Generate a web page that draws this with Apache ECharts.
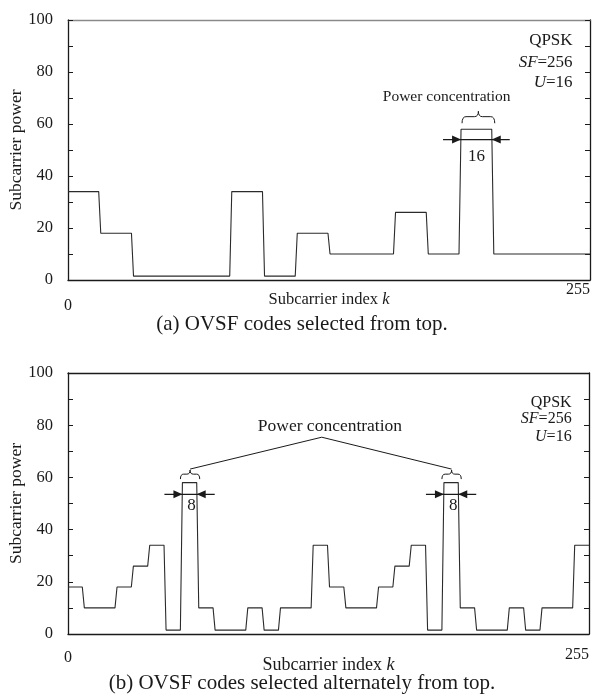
<!DOCTYPE html>
<html>
<head>
<meta charset="utf-8">
<script src="https://cdn.jsdelivr.net/npm/echarts@6/dist/echarts.min.js"></script>
<style>
  html, body { margin: 0; padding: 0; background: #fff; }
  #chart { width: 602px; height: 698px; }
</style>
</head>
<body>
<div id="chart"></div>
<script>
// Subcarrier power per block of adjacent subcarriers.
// (a) codes taken from the top of the OVSF tree: 16 blocks of 16 subcarriers
const blockWidthA = 16;
const powerA = [34, 18, 1.5, 1.5, 1.5, 34, 1.5, 18, 10, 10, 26, 10, 58, 10, 10, 10];
// (b) codes taken alternately from the top: 32 blocks of 8 subcarriers
const blockWidthB = 8;
const powerB = [18, 10, 10, 18, 26, 34, 1.5, 58, 10, 1.5, 1.5, 10, 1.5, 10, 10, 34,
                18, 10, 10, 18, 26, 34, 1.5, 58, 10, 1.5, 1.5, 10, 1.5, 10, 10, 34];
const yTickLabels = [0, 20, 40, 60, 80, 100];
const yTickMarks = [0, 10, 20, 30, 40, 50, 60, 70, 80, 90, 100];
const xTickLabels = [0, 255];

const FONT = 'Liberation Serif';
const INK = '#1a1a1a';

// each block becomes a flat run from its first to its last subcarrier
function stepPoints(levels, width) {
  const pts = [];
  levels.forEach((p, i) => {
    pts.push([i * width, p]);
    pts.push([i * width + width - 1, p]);
  });
  return pts;
}

const chart = echarts.init(document.getElementById('chart'), null, { renderer: 'canvas' });

function bottomAxis(grid, labelPad) {
  return {
    type: 'value', gridIndex: grid, position: 'bottom', min: 0, max: 255,
    axisLine: { show: true, onZero: false, lineStyle: { color: INK, width: 1.3 } },
    axisTick: { show: false },
    splitLine: { show: false },
    axisLabel: {
      customValues: xTickLabels, margin: 1, alignMinLabel: 'center', alignMaxLabel: 'right',
      fontFamily: FONT, fontSize: 16, color: INK,
      formatter: v => v === 0 ? '{lo|0}' : '{hi|' + v + '}',
      rich: {
        lo: { padding: [labelPad[0], 0, 0, 0], fontFamily: FONT, fontSize: 16, color: INK },
        hi: { padding: [labelPad[1], 0, 0, 0], fontFamily: FONT, fontSize: 16, color: INK }
      }
    },
    name: 'Subcarrier index {i|k}', nameLocation: 'middle', nameGap: labelPad[2],
    nameMoveOverlap: false,
    nameTextStyle: {
      fontFamily: FONT, fontSize: labelPad[3], color: INK,
      rich: { i: { fontFamily: FONT, fontSize: labelPad[3], fontStyle: 'italic', color: INK } }
    }
  };
}
function topAxis(grid, color) {
  return {
    type: 'value', gridIndex: grid, position: 'top', min: 0, max: 255,
    axisLine: { show: true, onZero: false, lineStyle: { color: color, width: 1.3 } },
    axisTick: { show: false }, axisLabel: { show: false }, splitLine: { show: false }
  };
}
function leftAxis(grid) {
  return {
    type: 'value', gridIndex: grid, position: 'left', min: 0, max: 100,
    axisLine: { show: true, onZero: false, lineStyle: { color: INK, width: 1.3 } },
    axisTick: { show: true, inside: true, length: 5, customValues: yTickMarks, lineStyle: { color: INK } },
    axisLabel: { customValues: yTickLabels, margin: 15, fontFamily: FONT, fontSize: 16.5, color: INK },
    splitLine: { show: false },
    name: 'Subcarrier power', nameLocation: 'middle', nameGap: 43, nameMoveOverlap: false,
    nameTextStyle: { fontFamily: FONT, fontSize: 17.5, color: INK }
  };
}
function rightAxis(grid) {
  return {
    type: 'value', gridIndex: grid, position: 'right', min: 0, max: 100,
    axisLine: { show: true, onZero: false, lineStyle: { color: INK, width: 1.3 } },
    axisTick: { show: true, inside: true, length: 5, customValues: yTickMarks, lineStyle: { color: INK } },
    axisLabel: { show: false }, splitLine: { show: false }
  };
}

const lineStyle = { color: '#2b2b2b', width: 1.1 };

chart.setOption({
  animation: false,
  backgroundColor: '#fff',
  grid: [
    { left: 68, top: 20, width: 522, height: 260, containLabel: false, outerBoundsMode: 'none' },
    { left: 68, top: 373, width: 521, height: 261, containLabel: false, outerBoundsMode: 'none' }
  ],
  xAxis: [bottomAxis(0, [17, 1, 11, 16.5]), topAxis(0, '#8a8a8a'),
          bottomAxis(1, [15, 12, 22, 18]), topAxis(1, INK)],
  yAxis: [leftAxis(0), rightAxis(0), leftAxis(1), rightAxis(1)],
  series: [
    { type: 'line', xAxisIndex: 0, yAxisIndex: 0, data: stepPoints(powerA, blockWidthA),
      symbol: 'none', lineStyle: lineStyle },
    { type: 'line', xAxisIndex: 2, yAxisIndex: 2, data: stepPoints(powerB, blockWidthB),
      symbol: 'none', lineStyle: lineStyle }
  ]
});

// ---- annotations, anchored in data coordinates ----
const at = (g, k, v) => chart.convertToPixel({ xAxisIndex: g * 2, yAxisIndex: g * 2 }, [k, v]);
const gfx = [];

function text(p, str, size, align, rich) {
  const st = { text: str, fontFamily: FONT, fontSize: size, fill: INK, align: align || 'center', verticalAlign: 'middle' };
  if (rich) st.rich = rich;
  gfx.push({ type: 'text', x: p[0], y: p[1], style: st, z: 100 });
}
function italicRich(size) {
  return {
    i: { fontFamily: FONT, fontSize: size, fontStyle: 'italic', fill: INK },
    n: { fontFamily: FONT, fontSize: size, fill: INK }
  };
}
function segment(x1, y1, x2, y2, w) {
  gfx.push({ type: 'line', z: 100, shape: { x1, y1, x2, y2 },
             style: { stroke: INK, lineWidth: w || 1 } });
}
function curve(x1, y1, cx, cy, x2, y2) {
  gfx.push({ type: 'bezierCurve', z: 100, shape: { x1, y1, x2, y2, cpx1: cx, cpy1: cy },
             style: { stroke: INK, lineWidth: 1, fill: null } });
}
// horizontal curly brace, ends pointing down, tip pointing up
function brace(x1, x2, yTip, h) {
  const xc = (x1 + x2) / 2, yMid = yTip + h * 0.45, yEnd = yTip + h, r = Math.min(4, (x2 - x1) / 6);
  curve(x1, yEnd, x1, yMid, x1 + r, yMid);
  segment(x1 + r, yMid, xc - r, yMid);
  curve(xc - r, yMid, xc, yMid, xc, yTip);
  curve(xc, yTip, xc, yMid, xc + r, yMid);
  segment(xc + r, yMid, x2 - r, yMid);
  curve(x2 - r, yMid, x2, yMid, x2, yEnd);
}
// width marker: two arrows pointing inward at the edges of a plateau
function widthArrows(xL, xR, y) {
  const tail = 18, head = 9, hw = 4;
  segment(xL - tail, y, xR + tail, y, 1.2);
  gfx.push({ type: 'polygon', z: 100, shape: { points: [[xL, y], [xL - head, y - hw], [xL - head, y + hw]] },
             style: { fill: INK } });
  gfx.push({ type: 'polygon', z: 100, shape: { points: [[xR, y], [xR + head, y - hw], [xR + head, y + hw]] },
             style: { fill: INK } });
}

// panel (a)
text(at(0, 246.5, 92), 'QPSK', 17, 'right');
text(at(0, 246.5, 83.6), '{i|SF}{n|=256}', 17, 'right', italicRich(17));
text(at(0, 246.5, 76), '{i|U}{n|=16}', 17, 'right', italicRich(17));
text(at(0, 185, 70.4), 'Power concentration', 15.5);
{
  const peakA = powerA.indexOf(58);
  const k0 = peakA * blockWidthA, k1 = k0 + blockWidthA - 1;
  const l = at(0, k0, 54), r = at(0, k1, 54);
  brace(l[0] + 1, r[0] + 3, at(0, 0, 64.9)[1], 12);
  widthArrows(l[0], r[0], l[1]);
  text(at(0, (k0 + k1) / 2, 47.4), String(blockWidthA), 17);
}

// panel (b)
text(at(1, 246.5, 88.5), 'QPSK', 16, 'right');
text(at(1, 246.5, 82.4), '{i|SF}{n|=256}', 16, 'right', italicRich(16));
text(at(1, 246.5, 75.5), '{i|U}{n|=16}', 16, 'right', italicRich(16));
text(at(1, 128.2, 79.4), 'Power concentration', 17.5);
{
  const apex = at(1, 124.2, 75.4);
  const half = powerB.length / 2;
  [powerB.indexOf(58), half + powerB.slice(half).indexOf(58)].forEach(bi => {
    const k0 = bi * blockWidthB, k1 = k0 + blockWidthB - 1;
    const l = at(1, k0, 53.5), r = at(1, k1, 53.5);
    const yTip = at(1, 0, 62.8)[1];
    brace(l[0] - 2, r[0] + 3, yTip, 9);
    segment(apex[0], apex[1], (l[0] + r[0]) / 2 + 0.5, yTip - 1);
    widthArrows(l[0], r[0], l[1]);
    text(at(1, (k0 + k1) / 2 + 1, 49.4), String(blockWidthB), 17);
  });
}

// captions under each panel
gfx.push({ type: 'text', z: 100, x: 302, y: 324,
  style: { text: '(a) OVSF codes selected from top.', fontFamily: FONT, fontSize: 21, fill: INK,
           align: 'center', verticalAlign: 'middle' } });
gfx.push({ type: 'text', z: 100, x: 302, y: 683,
  style: { text: '(b) OVSF codes selected alternately from top.', fontFamily: FONT, fontSize: 21, fill: INK,
           align: 'center', verticalAlign: 'middle' } });

chart.setOption({ graphic: gfx });
</script>
</body>
</html>
